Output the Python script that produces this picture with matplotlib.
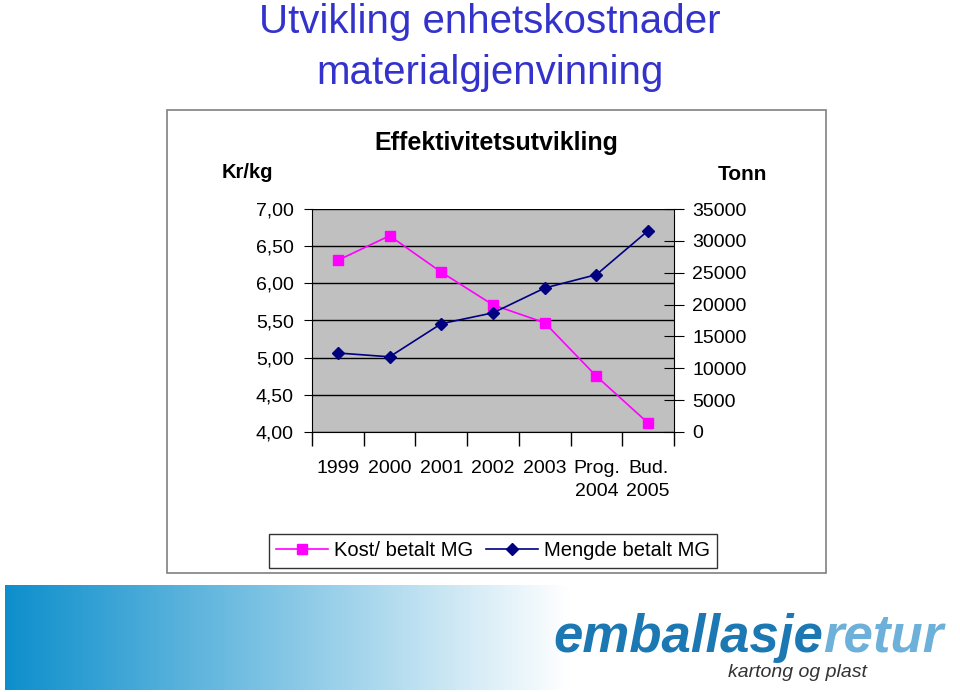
import numpy as np
import matplotlib.pyplot as plt

# data
years = ['1999', '2000', '2001', '2002', '2003', 'Prog.\n2004', 'Bud.\n2005']
kost = [6.31, 6.64, 6.15, 5.71, 5.47, 4.75, 4.12]          # Kr/kg
mengde = [12400, 11800, 17000, 18700, 22600, 24700, 31600]  # Tonn
left_ticks = [4.0, 4.5, 5.0, 5.5, 6.0, 6.5, 7.0]
left_labels = ['4,00', '4,50', '5,00', '5,50', '6,00', '6,50', '7,00']
right_ticks = [0, 5000, 10000, 15000, 20000, 25000, 30000, 35000]

plt.rcParams['font.family'] = ['Liberation Sans', 'DejaVu Sans']

W, H = 960, 692
fig = plt.figure(figsize=(W / 100, H / 100), dpi=100)


def box(x0, y0, x1, y1):
    # pixel box (top-left origin) -> figure fraction rect
    return [x0 / W, 1 - y1 / H, (x1 - x0) / W, (y1 - y0) / H]


# slide title
fig.text(490 / W, 1 - 33 / H, 'Utvikling enhetskostnader', ha='center', va='baseline',
         fontsize=29, color='#3333CC')
fig.text(490 / W, 1 - 84 / H, 'materialgjenvinning', ha='center', va='baseline',
         fontsize=29, color='#3333CC')

# chart frame
frame = plt.Rectangle((167 / W, 1 - 573 / H), (826 - 167) / W, (573 - 110) / H,
                      transform=fig.transFigure, fill=False, edgecolor='#808080', lw=1.2)
fig.add_artist(frame)

fig.text(496 / W, 1 - 143 / H, 'Effektivitetsutvikling', ha='center', va='center',
         fontsize=18, fontweight='bold')
fig.text(247 / W, 1 - 173 / H, 'Kr/kg', ha='center', va='center', fontsize=14.5, fontweight='bold')
fig.text(742 / W, 1 - 175 / H, 'Tonn', ha='center', va='center', fontsize=15, fontweight='bold')

ax = fig.add_axes(box(312, 209, 674, 432))
ax.set_facecolor('#C0C0C0')
x = np.arange(len(years))
l1, = ax.plot(x, kost, color='#FF00FF', lw=1.2, marker='s', ms=7,
              label='Kost/ betalt MG', zorder=3)
ax.set_xlim(-0.5, len(years) - 0.5)
ax.set_ylim(4.0, 7.0)
ax.set_yticks(left_ticks)
ax.set_yticklabels(left_labels)
ax.yaxis.grid(True, color='black', lw=1)
ax.set_axisbelow(True)
ax.set_xticks(np.arange(len(years) + 1) - 0.5)
ax.set_xticklabels([])
ax.set_xticks(x, minor=True)
ax.set_xticklabels(years, minor=True, linespacing=1.45)
ax.tick_params(axis='x', which='major', direction='out', length=10, width=1)
ax.tick_params(axis='x', which='minor', length=0, pad=20, labelsize=14)
ax.tick_params(axis='y', direction='out', length=6, pad=7, labelsize=14)
for s in ['top', 'right']:
    ax.spines[s].set_visible(False)
for s in ['left', 'bottom']:
    ax.spines[s].set_color('black')

ax2 = ax.twinx()
l2, = ax2.plot(x, mengde, color='#000080', lw=1.2, marker='D', ms=6,
               label='Mengde betalt MG', zorder=3)
ax2.set_ylim(0, 35000)
ax2.set_yticks(right_ticks)
ax2.tick_params(axis='y', direction='inout', length=14, pad=6, labelsize=14)
for s in ['top', 'left', 'bottom']:
    ax2.spines[s].set_visible(False)
ax2.spines['right'].set_color('black')

leg = fig.legend(handles=[l1, l2], loc='center', bbox_to_anchor=(493 / W, 1 - 551 / H),
                 ncol=2, fontsize=14.5, frameon=True, fancybox=False, handlelength=2.6,
                 columnspacing=0.6, handletextpad=0.3, borderpad=0.35)
leg.get_frame().set_edgecolor('black')
leg.get_frame().set_linewidth(1)

# gradient band at the bottom
gax = fig.add_axes(box(5, 585, 570, 690))
grad = np.linspace(0, 1, 256)
c0 = np.array([0.05, 0.56, 0.80])
c1 = np.array([1.0, 1.0, 1.0])
img = c0[None, :] * (1 - grad[:, None]) + c1[None, :] * grad[:, None]
gax.imshow(img[None, :, :], aspect='auto', extent=[0, 1, 0, 1])
gax.axis('off')

# logo text
t1 = fig.text(553 / W, 1 - 652 / H, 'emballasje', ha='left', va='baseline', fontsize=38,
              fontweight='bold', style='italic', color='#1C78B2')
fig.canvas.draw()
bb = t1.get_window_extent()
fig.text(bb.x1 / W, 1 - 652 / H, 'retur', ha='left', va='baseline', fontsize=38,
         fontweight='bold', style='italic', color='#6DB0D9')
fig.text(728 / W, 1 - 677 / H, 'kartong og plast', ha='left', va='baseline', fontsize=14,
         style='italic', color='#333333')

fig.savefig('out.png', dpi=100)
